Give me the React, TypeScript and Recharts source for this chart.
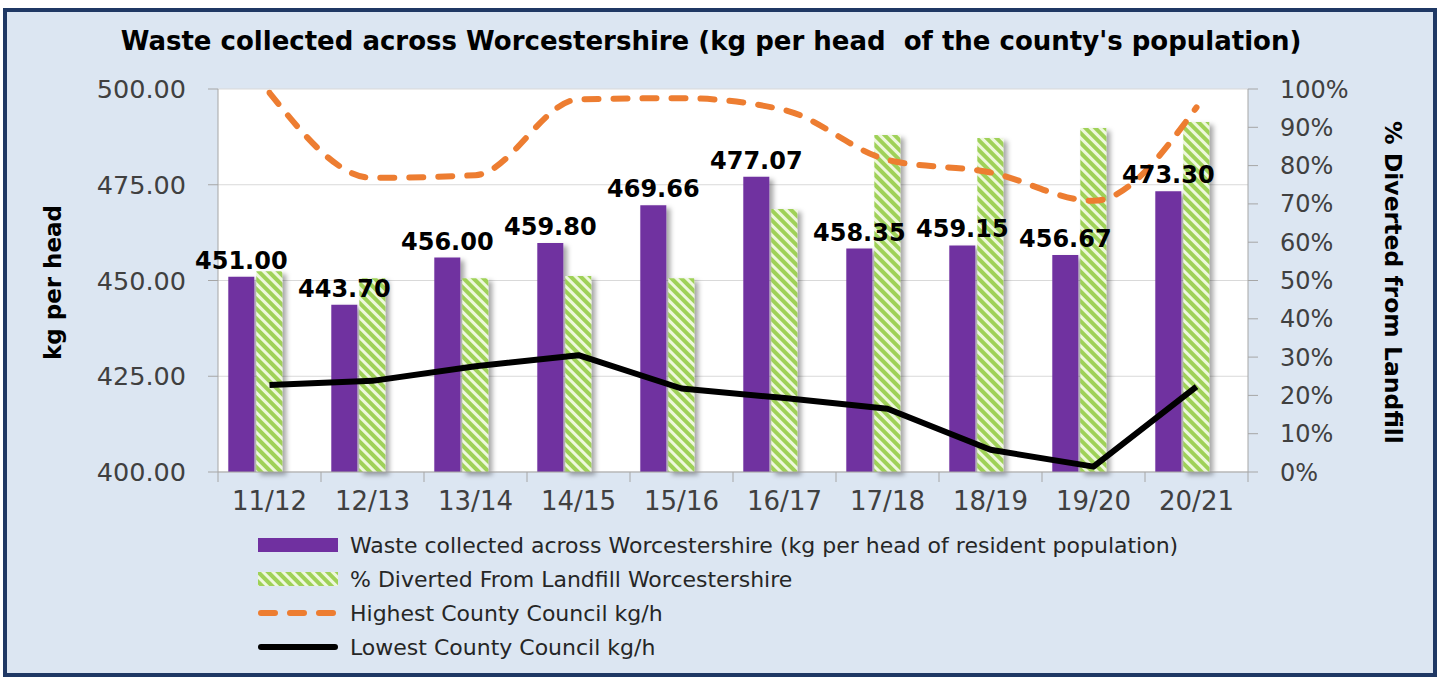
import React from 'react';
import {
  ComposedChart,
  Bar,
  Line,
  XAxis,
  YAxis,
  CartesianGrid,
  Legend,
  LabelList,
} from 'recharts';

// values
const categories = ['11/12', '12/13', '13/14', '14/15', '15/16', '16/17', '17/18', '18/19', '19/20', '20/21'];
const wasteKg = [451.0, 443.7, 456.0, 459.8, 469.66, 477.07, 458.35, 459.15, 456.67, 473.3];
const divertedPct = [52.4, 50.6, 50.6, 51.2, 50.6, 68.7, 88.0, 87.2, 89.8, 91.4];
const highestKg = [499.0, 476.8, 477.5, 497.3, 497.6, 494.5, 481.5, 478.2, 470.8, 495.2];
const lowestKg = [422.7, 423.8, 427.6, 430.5, 421.8, 419.3, 416.5, 405.8, 401.4, 422.3];

const kgTicks = [400, 425, 450, 475, 500];
const pctTicks = [0, 10, 20, 30, 40, 50, 60, 70, 80, 90, 100];
const legendOrder = ['waste', 'diverted', 'highest', 'lowest'];

const data = categories.map((period, i) => ({
  period,
  waste: wasteKg[i],
  diverted: divertedPct[i],
  highest: highestKg[i],
  lowest: lowestKg[i],
}));

const FONT = '"DejaVu Sans", Verdana, sans-serif';
const AXIS_TEXT = '#404040';
const AXIS_LINE = '#a6a6a6';
const PURPLE = '#7030a0';
const ORANGE = '#ed7d31';

const PeriodTick = (props: any) => {
  const { x, y, payload, index, visibleTicksCount } = props;
  const half = typeof payload.offset === 'number' && payload.offset > 0 ? payload.offset : 51.5;
  return (
    <g>
      <line x1={x - half} x2={x - half} y1={y} y2={y + 10} stroke={AXIS_LINE} />
      {index === visibleTicksCount - 1 && (
        <line x1={x + half} x2={x + half} y1={y} y2={y + 10} stroke={AXIS_LINE} />
      )}
      <text x={x} y={y + 38} textAnchor="middle" fontFamily={FONT} fontSize={26} fill={AXIS_TEXT}>
        {payload.value}
      </text>
    </g>
  );
};

const AxisTitle = ({ viewBox, text, side }: any) => {
  const cy = viewBox.y + viewBox.height / 2 + 2;
  const cx = side === 'left' ? viewBox.x - 65 : viewBox.x + 145;
  return (
    <text
      transform={`translate(${cx},${cy}) rotate(${side === 'left' ? -90 : 90})`}
      textAnchor="middle"
      dominantBaseline="central"
      fontFamily={FONT}
      fontWeight={700}
      fontSize={side === 'left' ? 23 : 23.5}
      fill="#000"
    >
      {text}
    </text>
  );
};

const Swatch = ({ dataKey }: { dataKey: string }) => {
  if (dataKey === 'waste') return <rect x={0} y={3} width={80} height={14} fill={PURPLE} />;
  if (dataKey === 'diverted') return <rect x={0} y={3} width={80} height={14} fill="url(#hatchGreen)" />;
  if (dataKey === 'highest')
    return <line x1={3} x2={77} y1={10} y2={10} stroke={ORANGE} strokeWidth={6} strokeDasharray="14 15" strokeLinecap="round" />;
  return <line x1={3} x2={77} y1={10} y2={10} stroke="#000" strokeWidth={6} strokeLinecap="round" />;
};

const LegendRows = ({ payload }: any) => {
  const items = (payload || [])
    .filter((p: any) => p.type !== 'none' && legendOrder.includes(p.dataKey))
    .sort((a: any, b: any) => legendOrder.indexOf(a.dataKey) - legendOrder.indexOf(b.dataKey));
  return (
    <div style={{ fontFamily: FONT, fontSize: 22, color: '#262626', textAlign: 'left' }}>
      {items.map((p: any) => (
        <div key={p.dataKey} style={{ display: 'flex', alignItems: 'center', height: 34 }}>
          <svg width={92} height={20} style={{ flex: 'none' }}>
            <Swatch dataKey={p.dataKey} />
          </svg>
          <span>{p.value}</span>
        </div>
      ))}
    </div>
  );
};

export default function App() {
  return (
    <div style={{ position: 'absolute', left: 0, top: 0, width: 1440, height: 682, background: '#fff' }}>
      <div
        style={{
          position: 'absolute',
          left: 3,
          top: 8,
          width: 1426,
          height: 661,
          border: '4px solid #1f3864',
          background: '#dce6f2',
        }}
      />
      <div
        style={{
          position: 'absolute',
          left: 0,
          top: 26,
          width: 1422,
          textAlign: 'center',
          fontFamily: FONT,
          fontWeight: 700,
          fontSize: 26,
          color: '#000',
          whiteSpace: 'pre',
        }}
      >
        {"Waste collected across Worcestershire (kg per head  of the county's population)"}
      </div>
      <ComposedChart
        width={1440}
        height={682}
        data={data}
        margin={{ top: 89, right: 92, bottom: 170, left: 118 }}
        barCategoryGap="10%"
        barGap={2}
        style={{ position: 'absolute', left: 0, top: 0 }}
      >
        <defs>
          <pattern id="hatchGreen" width={7} height={7} patternUnits="userSpaceOnUse" patternTransform="rotate(-45)">
            <rect width={7} height={7} fill="#9fd158" />
            <rect width={3} height={7} fill="#eef8dc" />
          </pattern>
          <filter id="barShadow" x="-20%" y="-5%" width="160%" height="115%">
            <feDropShadow dx={4} dy={3} stdDeviation={2.5} floodColor="#000" floodOpacity={0.35} />
          </filter>
        </defs>
        <CartesianGrid yAxisId="kg" vertical={false} stroke="#d9d9d9" fill="#ffffff" />
        <XAxis
          dataKey="period"
          height={40}
          tick={<PeriodTick />}
          tickLine={false}
          tickSize={0}
          tickMargin={0}
          axisLine={{ stroke: AXIS_LINE }}
          interval={0}
        />
        <YAxis
          yAxisId="kg"
          width={100}
          domain={[400, 500]}
          ticks={kgTicks}
          allowDataOverflow
          tickFormatter={(v: number) => v.toFixed(2)}
          tick={{ fontFamily: FONT, fontSize: 25.5, fill: AXIS_TEXT }}
          tickSize={10}
          tickMargin={22}
          tickLine={{ stroke: AXIS_LINE }}
          axisLine={{ stroke: AXIS_LINE }}
          label={<AxisTitle side="left" text="kg per head" />}
        />
        <YAxis
          yAxisId="pct"
          orientation="right"
          width={100}
          domain={[0, 100]}
          ticks={pctTicks}
          tickFormatter={(v: number) => `${v}%`}
          tick={{ fontFamily: FONT, fontSize: 24, fill: AXIS_TEXT }}
          tickSize={10}
          tickMargin={22}
          tickLine={{ stroke: AXIS_LINE }}
          axisLine={{ stroke: AXIS_LINE }}
          label={<AxisTitle side="right" text="% Diverted from Landfill" />}
        />
        <Legend
          layout="vertical"
          align="center"
          verticalAlign="middle"
          wrapperStyle={{ left: 258, top: 528, width: 1000 }}
          content={<LegendRows />}
        />
        <Bar
          yAxisId="kg"
          dataKey="waste"
          name="Waste collected across Worcestershire (kg per head of resident population)"
          fill={PURPLE}
          filter="url(#barShadow)"
          isAnimationActive={false}
        >
          <LabelList
            dataKey="waste"
            position="top"
            offset={8}
            formatter={(v: any) => Number(v).toFixed(2)}
            style={{ fontFamily: FONT, fontWeight: 700, fontSize: 24, fill: '#000' }}
          />
        </Bar>
        <Bar
          yAxisId="pct"
          dataKey="diverted"
          name="% Diverted From Landfill Worcestershire"
          fill="url(#hatchGreen)"
          filter="url(#barShadow)"
          isAnimationActive={false}
        />
        {/* empty third slot, as in the source workbook */}
        <Bar yAxisId="kg" dataKey="unused" legendType="none" fill="none" isAnimationActive={false} />
        <Line
          yAxisId="kg"
          type="monotone"
          dataKey="highest"
          name="Highest County Council kg/h"
          stroke={ORANGE}
          strokeWidth={6}
          strokeDasharray="14 15"
          strokeLinecap="round"
          dot={false}
          isAnimationActive={false}
        />
        <Line
          yAxisId="kg"
          type="linear"
          dataKey="lowest"
          name="Lowest County Council kg/h"
          stroke="#000"
          strokeWidth={6}
          strokeLinejoin="round"
          dot={false}
          isAnimationActive={false}
        />
      </ComposedChart>
    </div>
  );
}
